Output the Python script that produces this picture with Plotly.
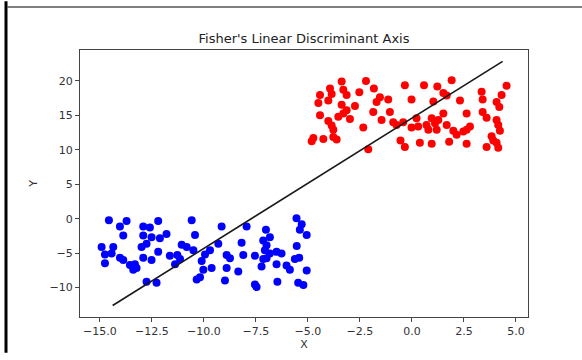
import plotly.graph_objects as go

blue_x = [-14.57, -13.72, -12.20, -10.59, -14.04, -12.92, -12.60, -9.15, -7.95, -5.55,
          -5.30, -5.39, -5.06, -7.02, -6.83, -13.88, -12.92, -12.52, -12.12, -11.80,
          -10.43, -14.92, -14.36, -13.00, -12.76, -11.07, -10.83, -10.51, -9.31, -8.19,
          -7.15, -6.99, -7.07, -5.54, -14.76, -14.44, -14.04, -13.88, -12.92, -12.20,
          -11.64, -11.28, -11.15, -9.95, -9.71, -8.91, -8.75, -8.11, -7.55, -6.83,
          -6.51, -6.27, -6.99, -7.15, -5.63, -5.42, -14.76, -13.56, -13.32, -13.24,
          -13.40, -12.52, -11.39, -10.11, -10.03, -9.63, -8.91, -8.35, -7.23, -6.51,
          -6.03, -5.87, -5.06, -12.76, -12.28, -10.35, -10.19, -8.99, -7.55, -7.47,
          -6.47, -5.47, -5.22]
blue_y = [-0.23, -0.33, -0.33, -0.23, -1.13, -1.13, -1.27, -1.13, -1.13, 0.05,
          -0.80, -1.60, -2.36, -1.60, -2.69, -2.45, -2.45, -2.69, -2.83, -2.22,
          -2.36, -4.11, -4.11, -4.11, -3.64, -3.78, -4.11, -4.58, -3.64, -3.50,
          -3.16, -3.87, -4.58, -3.97, -5.19, -5.05, -5.67, -6.00, -5.67, -4.82,
          -5.39, -5.29, -5.86, -5.19, -4.58, -5.29, -5.76, -5.29, -5.39, -5.05,
          -4.82, -5.05, -5.76, -5.86, -5.86, -5.67, -6.47, -6.71, -6.62, -7.18,
          -7.42, -6.00, -6.62, -6.14, -7.42, -7.18, -7.18, -7.66, -6.95, -6.62,
          -6.80, -7.42, -7.51, -9.17, -9.31, -8.84, -8.51, -8.98, -9.55, -9.93,
          -9.17, -9.31, -9.64]

red_x = [-3.38, -2.21, -0.34, 0.58, 1.22, 1.91, 4.55, -4.42, -3.94, -3.86,
         -3.30, -3.14, -2.53, -1.83, -1.54, -1.70, -1.14, -0.02, 1.03, 1.51,
         1.67, 2.31, 3.35, 3.40, 4.31, 4.07, 4.20, -4.50, -4.02, -3.38,
         -2.74, -3.14, -3.30, -3.54, -2.98, -4.42, -4.02, -3.86, -3.78, -1.86,
         -1.46, -1.06, -0.90, -0.74, -0.42, 0.22, -0.02, 0.30, 0.70, 0.95,
         1.11, 1.51, 1.27, 1.19, 1.67, 0.79, 1.99, 2.15, 2.47, 2.63,
         2.63, 2.79, 3.40, 3.59, 4.07, 4.15, 4.23, 3.83, 3.91, 4.07,
         -4.74, -4.82, -4.26, -3.78, -3.62, -2.34, -0.55, -0.34, 0.38, 0.95,
         1.79, 2.63, 3.59, 4.15, -2.10]
red_y = [19.91, 20.00, 19.39, 19.39, 19.20, 20.10, 19.30, 17.97, 18.92, 18.11,
         18.73, 17.97, 18.35, 18.92, 17.64, 16.93, 17.31, 17.31, 17.03, 18.26,
         17.88, 17.17, 18.45, 17.31, 17.97, 16.93, 16.22, 16.79, 17.17, 16.55,
         16.36, 15.75, 15.28, 14.80, 14.47, 15.04, 14.19, 13.53, 12.91, 15.51,
         14.33, 15.51, 14.00, 13.62, 14.00, 14.57, 13.24, 13.39, 13.62, 14.57,
         13.86, 15.28, 14.33, 12.91, 13.62, 12.91, 12.77, 12.20, 12.68, 15.28,
         12.91, 13.39, 15.51, 14.66, 14.33, 13.62, 12.77, 11.97, 11.35, 11.02,
         11.73, 11.26, 11.59, 11.87, 11.49, 13.24, 11.35, 10.41, 11.02, 10.88,
         11.16, 10.88, 10.41, 10.31, 10.08]

line_x = [-14.39, 4.36]
line_y = [-12.61, 22.84]

title_text = "Fisher's Linear Discriminant Axis"
x_label = "X"
y_label = "Y"
x_ticks = [-15.0, -12.5, -10.0, -7.5, -5.0, -2.5, 0.0, 2.5, 5.0]
y_ticks = [-10, -5, 0, 5, 10, 15, 20]

fig = go.Figure()
fig.add_trace(go.Scatter(x=blue_x, y=blue_y, mode="markers",
                         marker=dict(color="#0000ff", size=8, line=dict(width=0)),
                         showlegend=False))
fig.add_trace(go.Scatter(x=red_x, y=red_y, mode="markers",
                         marker=dict(color="#ff0000", size=8, line=dict(width=0)),
                         showlegend=False))
fig.add_trace(go.Scatter(x=line_x, y=line_y, mode="lines",
                         line=dict(color="#1a1a1a", width=1.6),
                         showlegend=False))

W, H = 582, 360
L, R, T, B = 80, 54, 50, 36.5
pw, ph = W - L - R, H - T - B

def px2paperx(p):
    return (p - L) / pw

def py2papery(p):
    return 1 - (p - T) / ph

font = "DejaVu Sans, sans-serif"
axis_common = dict(showline=True, linecolor="#444", linewidth=1, mirror=True,
                   ticks="outside", ticklen=4, tickcolor="#444", tickwidth=1,
                   showgrid=False, zeroline=False,
                   tickfont=dict(family=font, size=11, color="#333"))

fig.update_layout(
    width=W, height=H,
    margin=dict(l=L, r=R, t=T, b=B),
    paper_bgcolor="white", plot_bgcolor="white",
    title=dict(text=title_text, x=304 / W, xanchor="center",
               y=1 - 38 / H, yanchor="middle",
               font=dict(family=font, size=13, color="#222")),
    xaxis=dict(range=[-15.96, 5.58], tickvals=x_ticks, tickformat=".1f",
               title=dict(text=x_label, standoff=2, font=dict(family=font, size=11, color="#333")),
               **axis_common),
    yaxis=dict(range=[-14.28, 24.5], tickvals=y_ticks,
               title=dict(text=y_label, standoff=9, font=dict(family=font, size=11, color="#333")),
               **axis_common),
    shapes=[
        dict(type="line", xref="paper", yref="paper",
             x0=px2paperx(6), x1=px2paperx(6), y0=py2papery(0), y1=py2papery(360),
             line=dict(color="black", width=3)),
        dict(type="line", xref="paper", yref="paper",
             x0=px2paperx(7), x1=px2paperx(582), y0=py2papery(6), y1=py2papery(6),
             line=dict(color="#555", width=1.5)),
    ],
)

fig.write_html("out.html", config={"displayModeBar": False},
               post_script="document.body.style.margin='0px';document.body.style.overflow='hidden';")
